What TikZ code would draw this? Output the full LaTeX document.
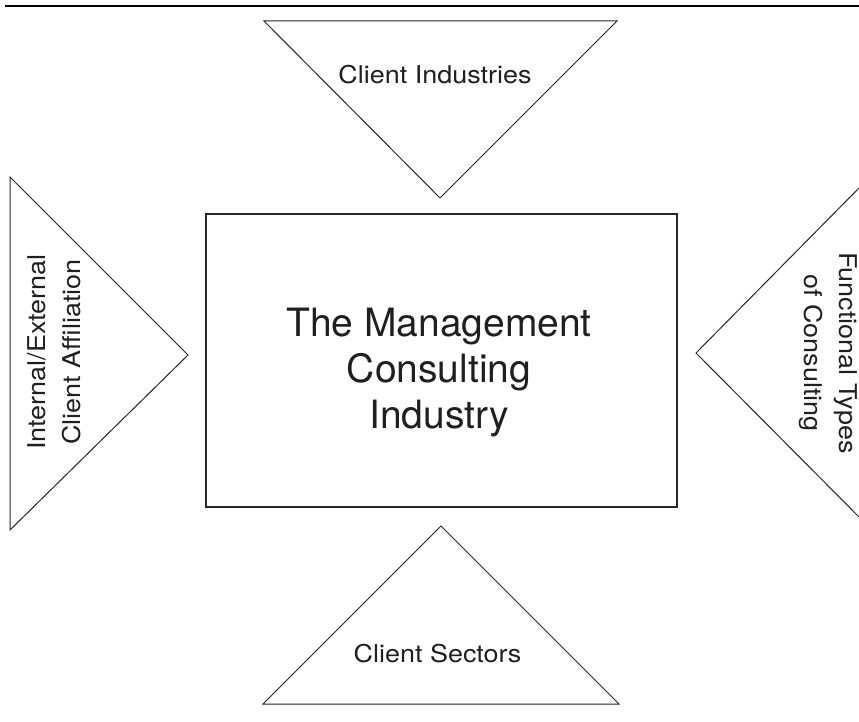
\documentclass[tikz,border=0pt]{standalone}
\usepackage{fontspec}
\setmainfont{TeX Gyre Heros}
\newfontfamily\labelfont[FakeStretch=1.1]{TeX Gyre Heros}
\begin{document}
\begin{tikzpicture}[x=1pt,y=-1pt,
  frame/.style={draw=black!85,line width=1pt,line join=miter},
  label/.style={inner sep=0pt,align=center,text=black!88,font=\labelfont\fontsize{24.5}{35}\selectfont},
  bigtext/.style={inner sep=0pt,align=center,text=black!88,font=\fontsize{39}{46}\selectfont}]
  \useasboundingbox (0,0) rectangle (859,722);
  % rule across the top
  \draw[line width=1.8pt] (5,6) -- (859,6);
  % central box
  \node[frame,line width=1.2pt,minimum width=471pt,minimum height=293pt,inner sep=0pt]
    (core) at (441.5,360.5) {};
  \node[bigtext] (coretext) at (439,373) {The Management\\Consulting\\Industry};
  % top triangle
  \coordinate (tA) at (264,21);
  \coordinate (tB) at (617,21);
  \coordinate (tC) at (440,198);
  \draw[frame] (tA) -- (tB) -- (tC) -- cycle;
  \node[label,anchor=base] (industries) at (435,84) {Client Industries};
  % left triangle
  \coordinate (lA) at (10,177);
  \coordinate (lB) at (188,355);
  \coordinate (lC) at (10,530);
  \draw[frame] (lA) -- (lB) -- (lC) -- cycle;
  \node[label,rotate=90] (affiliation) at (54,352) {Internal/External\\Client Affiliation};
  % right triangle, running off the right edge
  \coordinate (rA) at (859,188);
  \coordinate (rB) at (696,353);
  \coordinate (rC) at (859,517);
  \draw[frame] (rA) -- (rB) -- (rC);
  \node[label,rotate=-90] (functional) at (828,353) {Functional Types\\of Consulting};
  % bottom triangle
  \coordinate (bA) at (441,526);
  \coordinate (bB) at (619,704);
  \coordinate (bC) at (263,704);
  \draw[frame] (bA) -- (bB) -- (bC) -- cycle;
  \node[label,anchor=base] (sectors) at (437.5,662) {Client Sectors};
\end{tikzpicture}
\end{document}
